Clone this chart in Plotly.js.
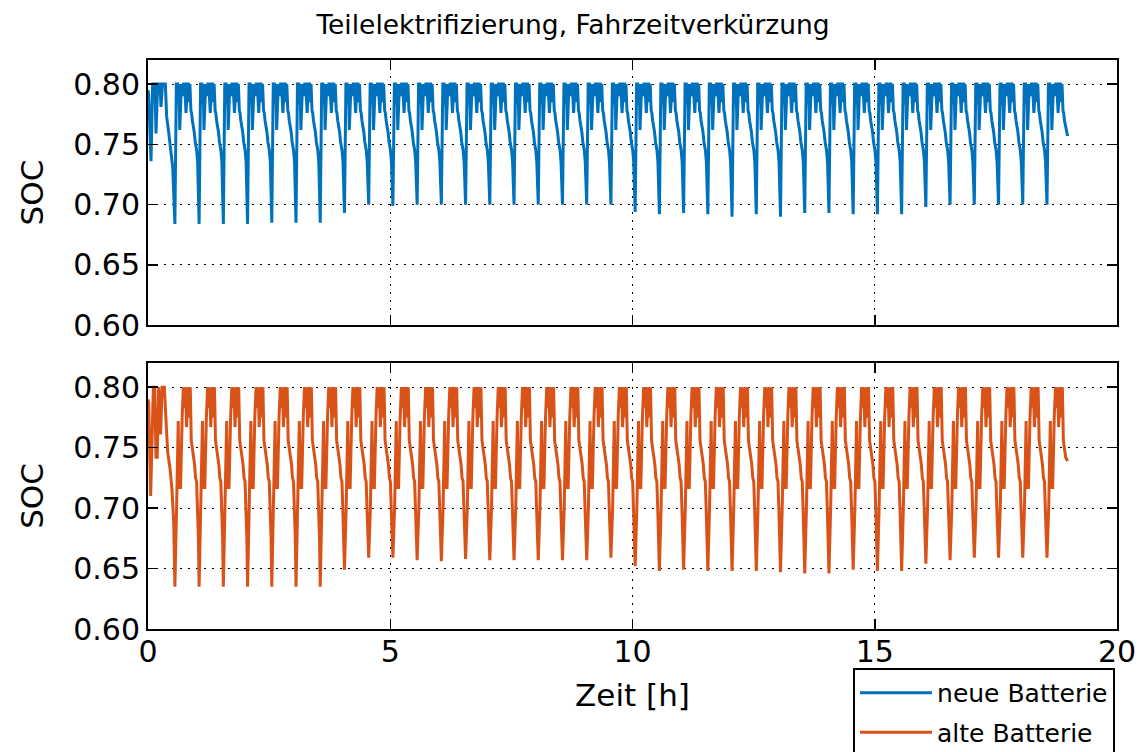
<!DOCTYPE html>
<html>
<head>
<meta charset="utf-8">
<script src="https://cdn.plot.ly/plotly-3.0.1.min.js"></script>
<style>html,body{margin:0;padding:0;background:#fff;} #chart{width:1146px;height:752px;}</style>
</head>
<body>
<div id="chart"></div>
<script>
// ---- data ----
const chartTitle = "Teilelektrifizierung, Fahrzeitverkürzung";
const seriesNames = ["neue Batterie", "alte Batterie"];
const xTickVals = [0, 5, 10, 15, 20];
const yTickVals = [0.60, 0.65, 0.70, 0.75, 0.80];

// times [h] of the deep minimum of each half-hour cycle
const cycleMinTimes = [0.555, 1.055, 1.555, 2.055, 2.555, 3.055, 3.555, 4.055, 4.555, 5.055,
  5.555, 6.055, 6.555, 7.055, 7.555, 8.055, 8.555, 9.055, 9.555, 10.055,
  10.555, 11.055, 11.555, 12.055, 12.555, 13.055, 13.555, 14.055, 14.555, 15.055,
  15.555, 16.055, 16.555, 17.055, 17.555, 18.055, 18.555];

// SOC at each cycle minimum
const blueMinValues = [0.684, 0.684, 0.684, 0.684, 0.685, 0.685, 0.685, 0.693, 0.700, 0.699,
  0.700, 0.700, 0.700, 0.700, 0.700, 0.700, 0.700, 0.700, 0.700, 0.694,
  0.692, 0.693, 0.692, 0.690, 0.692, 0.690, 0.693, 0.693, 0.692, 0.692,
  0.692, 0.698, 0.700, 0.700, 0.700, 0.700, 0.700];
const orangeMinValues = [0.635, 0.635, 0.635, 0.635, 0.635, 0.635, 0.635, 0.649, 0.659, 0.659,
  0.657, 0.656, 0.658, 0.657, 0.657, 0.657, 0.657, 0.657, 0.659, 0.652,
  0.648, 0.649, 0.648, 0.648, 0.648, 0.647, 0.646, 0.646, 0.649, 0.648,
  0.648, 0.654, 0.657, 0.659, 0.659, 0.659, 0.659];

// first (partial) cycle, before the first minimum
const blueStartT = [0.0, 0.014, 0.062, 0.096, 0.145, 0.165, 0.20, 0.248, 0.268, 0.30, 0.358, 0.385, 0.427, 0.475, 0.51, 0.54];
const blueStartV = [0.795, 0.791, 0.736, 0.80, 0.80, 0.759, 0.80, 0.80, 0.781, 0.80, 0.80, 0.773, 0.760, 0.743, 0.731, 0.70];
const orangeStartT = [0.0, 0.014, 0.055, 0.083, 0.11, 0.14, 0.165, 0.19, 0.22, 0.26, 0.29, 0.337, 0.37, 0.406, 0.454, 0.495, 0.53];
const orangeStartV = [0.79, 0.787, 0.71, 0.769, 0.80, 0.80, 0.742, 0.742, 0.80, 0.761, 0.80, 0.80, 0.769, 0.746, 0.733, 0.715, 0.689];

// course of SOC within a cycle (hours after the minimum)
const blueCycleOffsets = [0.03, 0.055, 0.07, 0.085, 0.10, 0.12, 0.135, 0.165, 0.18, 0.20, 0.23, 0.26, 0.28, 0.295, 0.31, 0.33, 0.345, 0.36, 0.39, 0.40, 0.42, 0.45, 0.47, 0.485];
const blueCycleValues  = [0.80, 0.80, 0.783, 0.80, 0.762, 0.80, 0.80, 0.79, 0.80, 0.80, 0.776, 0.80, 0.80, 0.785, 0.80, 0.778, 0.776, 0.770, 0.764, 0.760, 0.752, 0.745, 0.735, 0.715];
const orangeCycleOffsets = [0.035, 0.069, 0.083, 0.117, 0.15, 0.175, 0.19, 0.205, 0.22, 0.24, 0.276, 0.29, 0.305, 0.317, 0.338, 0.372, 0.385, 0.407, 0.427, 0.448, 0.469, 0.485];
const orangeCycleValues  = [0.70, 0.772, 0.717, 0.717, 0.775, 0.80, 0.783, 0.80, 0.80, 0.767, 0.80, 0.775, 0.80, 0.80, 0.756, 0.747, 0.742, 0.736, 0.725, 0.722, 0.695, 0.675];

// last sample of each series
const blueEnd = [18.98, 0.757];
const orangeEnd = [18.98, 0.739];

function buildSeries(startT, startV, mins, offs, vals, end) {
  const t = startT.slice(), v = startV.slice();
  const last = cycleMinTimes.length - 1;
  cycleMinTimes.forEach((tm, k) => {
    t.push(tm); v.push(mins[k]);
    for (let j = 0; j < offs.length; j++) {
      if (k === last && tm + offs[j] >= end[0] - 0.03) break;
      t.push(tm + offs[j]); v.push(vals[j]);
    }
  });
  t.push(end[0]); v.push(end[1]);
  return {t, v};
}

const blue = buildSeries(blueStartT, blueStartV, blueMinValues, blueCycleOffsets, blueCycleValues, blueEnd);
const orange = buildSeries(orangeStartT, orangeStartV, orangeMinValues, orangeCycleOffsets, orangeCycleValues, orangeEnd);

const FONT = 'DejaVu Sans, sans-serif';
const traces = [
  {x: blue.t, y: blue.v, type: 'scatter', mode: 'lines', name: seriesNames[0], legendgroup: 'a',
   line: {color: '#0072BD', width: 3}, xaxis: 'x', yaxis: 'y'},
  {x: orange.t, y: orange.v, type: 'scatter', mode: 'lines', name: seriesNames[1], legendgroup: 'b',
   line: {color: '#D95319', width: 3}, xaxis: 'x2', yaxis: 'y2'}
];

const axisCommon = {
  showline: true, linecolor: '#000', linewidth: 2, mirror: 'ticks',
  ticks: 'inside', ticklen: 10, tickwidth: 1.5, tickcolor: '#000',
  showgrid: true, gridcolor: '#000', gridwidth: 1, griddash: '2px,6px',
  zeroline: false, tickfont: {family: FONT, size: 30, color: '#000'}
};
const xCommon = Object.assign({}, axisCommon, {range: [0, 20], tickvals: xTickVals, ticktext: xTickVals.map(String), ticklabelstandoff: -5});
const yCommon = Object.assign({}, axisCommon, {range: [0.6, 0.82], tickvals: yTickVals, ticktext: yTickVals.map(v => v.toFixed(2)),
  title: {text: 'SOC', font: {family: FONT, size: 31, color: '#000'}, standoff: 20}});

const layout = {
  width: 1146, height: 752,
  paper_bgcolor: '#fff', plot_bgcolor: '#fff',
  margin: {l: 148, r: 29, t: 60, b: 123, autoexpand: false},
  showlegend: true,
  title: {text: chartTitle, font: {family: FONT, size: 26.5, color: '#000'}, x: 0.5, xref: 'container', xanchor: 'center', y: 1 - 25/752, yref: 'container', yanchor: 'middle'},
  xaxis: Object.assign({}, xCommon, {anchor: 'y', showticklabels: false}),
  yaxis: Object.assign({}, yCommon, {domain: [0.534, 1], anchor: 'x'}),
  xaxis2: Object.assign({}, xCommon, {anchor: 'y2',
    title: {text: 'Zeit [h]', font: {family: FONT, size: 31, color: '#000'}, standoff: 16}}),
  yaxis2: Object.assign({}, yCommon, {domain: [0, 0.4675], anchor: 'x2'}),
  legend: {x: 0.7276, y: -0.0685, xanchor: 'left', yanchor: 'top', xref: 'paper', yref: 'paper',
    bgcolor: '#fff', bordercolor: '#000', borderwidth: 2, traceorder: 'grouped', tracegroupgap: 4,
    font: {family: FONT, size: 25, color: '#000'}, itemwidth: 72, entrywidth: 216}
};

Plotly.newPlot('chart', traces, layout, {displayModeBar: false, staticPlot: true});
</script>
</body>
</html>
